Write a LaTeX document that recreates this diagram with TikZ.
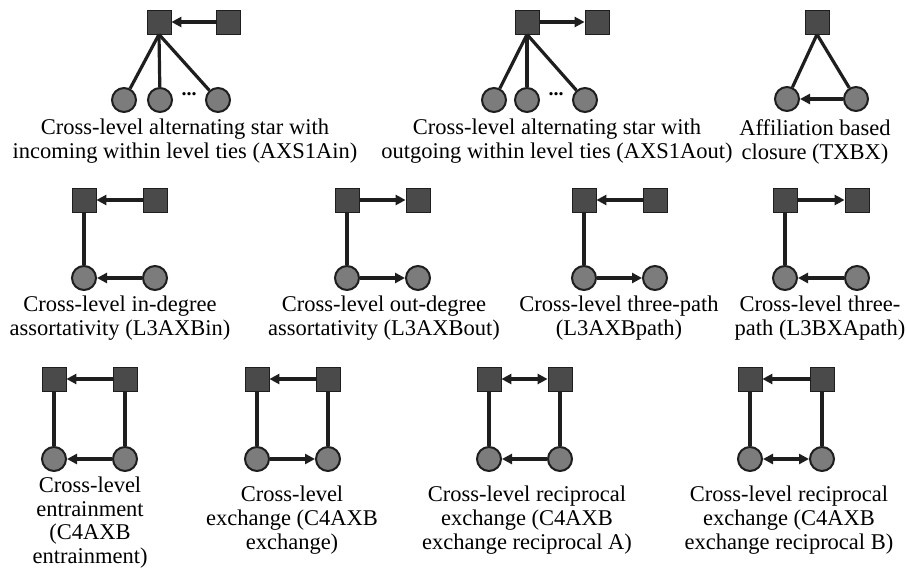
\documentclass[tikz,border=0pt]{standalone}
\usepackage{fontspec}
\setmainfont{Liberation Serif}
\usetikzlibrary{arrows.meta}
\definecolor{sqfill}{HTML}{4A4A4A}
\definecolor{cfill}{HTML}{7C7C7C}
\definecolor{ink}{HTML}{1E1E1E}
\tikzset{
  sq/.style={rectangle, draw=ink, line width=0.8pt, fill=sqfill, minimum size=24pt, inner sep=0pt},
  cir/.style={circle, draw=ink, line width=2pt, fill=cfill, minimum size=24pt, inner sep=0pt},
  tie/.style={draw=ink, line width=3.2pt},
  arr/.style={tie, -{Triangle[length=10pt,width=10pt]}},
  darr/.style={tie, {Triangle[length=10pt,width=10pt]}-{Triangle[length=10pt,width=10pt]}},
  lbl/.style={anchor=north, align=center, inner sep=0pt, font=\fontsize{22.5pt}{24pt}\selectfont},
  dots/.style={inner sep=0pt, font=\fontsize{20pt}{24pt}\selectfont\bfseries}
}
\begin{document}
\begin{tikzpicture}[x=1pt,y=-1pt]
\useasboundingbox (0,0) rectangle (906,572);
% ---- Panel 1: AXS1Ain
\node[sq] (p1a) at (159,22) {};
\node[sq] (p1b) at (228,22) {};
\node[cir] (p1c1) at (124,100) {};
\node[cir] (p1c2) at (160,100) {};
\node[cir] (p1c3) at (218,100) {};
\node[dots] (p1d) at (189,94) {...};
\draw[arr] (p1b) -- (p1a);
\draw[tie] (p1a.south) -- (p1c1);
\draw[tie] (p1a.south) -- (p1c2);
\draw[tie] (p1a.south) -- (p1c3);
\node[lbl] (p1l) at (185,119) {Cross-level alternating star with\\incoming within level ties (AXS1Ain)};
% ---- Panel 2: AXS1Aout
\node[sq] (p2a) at (527,22) {};
\node[sq] (p2b) at (597,22) {};
\node[cir] (p2c1) at (494,100) {};
\node[cir] (p2c2) at (527,100) {};
\node[cir] (p2c3) at (585,100) {};
\node[dots] (p2d) at (556,94) {...};
\draw[arr] (p2a) -- (p2b);
\draw[tie] (p2a.south) -- (p2c1);
\draw[tie] (p2a.south) -- (p2c2);
\draw[tie] (p2a.south) -- (p2c3);
\node[lbl] (p2l) at (557,119) {Cross-level alternating star with\\outgoing within level ties (AXS1Aout)};
% ---- Panel 3: TXBX
\node[sq] (p3a) at (817,22) {};
\node[cir] (p3c1) at (787,99) {};
\node[cir] (p3c2) at (856,99) {};
\draw[tie] (p3a.south) -- (p3c1);
\draw[tie] (p3a.south) -- (p3c2);
\draw[arr] (p3c2) -- (p3c1);
\node[lbl] (p3l) at (815,119) {Affiliation based\\closure (TXBX)};
% ---- Panel 4: L3AXBin
\node[sq] (p4a) at (84,200) {};
\node[sq] (p4b) at (155,200) {};
\node[cir] (p4c1) at (84,278) {};
\node[cir] (p4c2) at (155,278) {};
\draw[arr] (p4b) -- (p4a);
\draw[arr] (p4c2) -- (p4c1);
\draw[tie] (p4a) -- (p4c1);
\node[lbl] (p4l) at (120,296) {Cross-level in-degree\\assortativity (L3AXBin)};
% ---- Panel 5: L3AXBout
\node[sq] (p5a) at (347,200) {};
\node[sq] (p5b) at (418,200) {};
\node[cir] (p5c1) at (347,278) {};
\node[cir] (p5c2) at (418,278) {};
\draw[arr] (p5a) -- (p5b);
\draw[arr] (p5c1) -- (p5c2);
\draw[tie] (p5a) -- (p5c1);
\node[lbl] (p5l) at (384,296) {Cross-level out-degree\\assortativity (L3AXBout)};
% ---- Panel 6: L3AXBpath
\node[sq] (p6a) at (584,200) {};
\node[sq] (p6b) at (655,200) {};
\node[cir] (p6c1) at (584,278) {};
\node[cir] (p6c2) at (655,278) {};
\draw[arr] (p6b) -- (p6a);
\draw[arr] (p6c1) -- (p6c2);
\draw[tie] (p6a) -- (p6c1);
\node[lbl] (p6l) at (619,296) {Cross-level three-path\\(L3AXBpath)};
% ---- Panel 7: L3BXApath
\node[sq] (p7a) at (785,200) {};
\node[sq] (p7b) at (857,200) {};
\node[cir] (p7c1) at (785,278) {};
\node[cir] (p7c2) at (857,278) {};
\draw[arr] (p7a) -- (p7b);
\draw[arr] (p7c2) -- (p7c1);
\draw[tie] (p7a) -- (p7c1);
\node[lbl] (p7l) at (820,296) {Cross-level three-\\path (L3BXApath)};
% ---- Panel 8: C4AXB entrainment
\node[sq] (p8a) at (54,379) {};
\node[sq] (p8b) at (125,379) {};
\node[cir] (p8c1) at (54,459) {};
\node[cir] (p8c2) at (125,459) {};
\draw[arr] (p8b) -- (p8a);
\draw[arr] (p8c2) -- (p8c1);
\draw[tie] (p8a) -- (p8c1);
\draw[tie] (p8b) -- (p8c2);
\node[lbl, font=\fontsize{22.5pt}{23.5pt}\selectfont] (p8l) at (90,477) {Cross-level\\entrainment\\(C4AXB\\entrainment)};
% ---- Panel 9: C4AXB exchange
\node[sq] (p9a) at (257,379) {};
\node[sq] (p9b) at (328,379) {};
\node[cir] (p9c1) at (257,459) {};
\node[cir] (p9c2) at (328,459) {};
\draw[arr] (p9b) -- (p9a);
\draw[arr] (p9c1) -- (p9c2);
\draw[tie] (p9a) -- (p9c1);
\draw[tie] (p9b) -- (p9c2);
\node[lbl] (p9l) at (292,486) {Cross-level\\exchange (C4AXB\\exchange)};
% ---- Panel 10: reciprocal A
\node[sq] (p10a) at (489,379) {};
\node[sq] (p10b) at (560,379) {};
\node[cir] (p10c1) at (489,459) {};
\node[cir] (p10c2) at (560,459) {};
\draw[darr] (p10a) -- (p10b);
\draw[arr] (p10c2) -- (p10c1);
\draw[tie] (p10a) -- (p10c1);
\draw[tie] (p10b) -- (p10c2);
\node[lbl] (p10l) at (527,486) {Cross-level reciprocal\\exchange (C4AXB\\exchange reciprocal A)};
% ---- Panel 11: reciprocal B
\node[sq] (p11a) at (750,379) {};
\node[sq] (p11b) at (822,379) {};
\node[cir] (p11c1) at (750,459) {};
\node[cir] (p11c2) at (822,459) {};
\draw[arr] (p11b) -- (p11a);
\draw[darr] (p11c1) -- (p11c2);
\draw[tie] (p11a) -- (p11c1);
\draw[tie] (p11b) -- (p11c2);
\node[lbl] (p11l) at (789,486) {Cross-level reciprocal\\exchange (C4AXB\\exchange reciprocal B)};
\end{tikzpicture}
\end{document}
